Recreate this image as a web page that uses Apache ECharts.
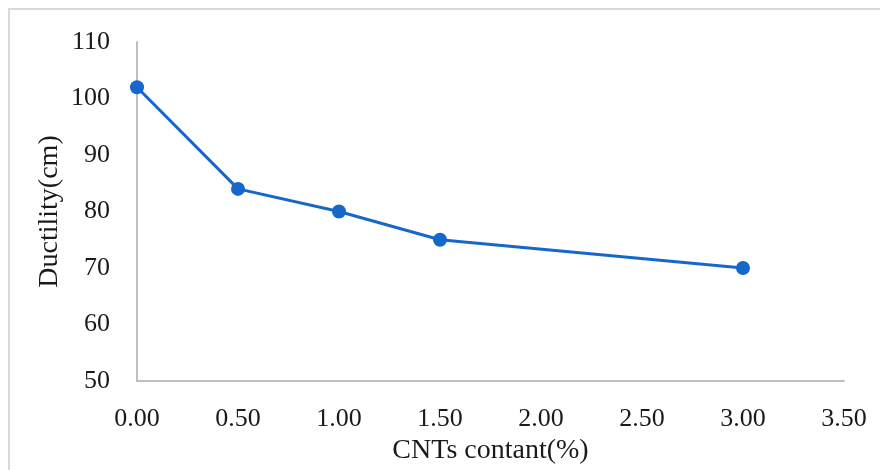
<!DOCTYPE html>
<html>
<head>
<meta charset="utf-8">
<script src="https://cdn.jsdelivr.net/npm/echarts@6/dist/echarts.min.js"></script>
<style>
html,body{margin:0;padding:0;background:#fff;}
#chart{width:880px;height:470px;}
</style>
</head>
<body>
<div id="chart"></div>
<script>
const cntContent = [0, 0.5, 1.0, 1.5, 3.0];
const ductility = [102, 84, 80, 75, 70];
const xAxisName = 'CNTs contant(%)';
const yAxisName = 'Ductility(cm)';

const chart = echarts.init(document.getElementById('chart'));
const font = 'Liberation Serif';
chart.setOption({
  animation: false,
  backgroundColor: '#fff',
  graphic: [{
    type: 'rect',
    shape: {x: 9, y: 9, width: 900, height: 500},
    style: {fill: 'none', stroke: '#d9d9d9', lineWidth: 2},
    silent: true
  }],
  grid: {left: 137, right: 36, top: 42, bottom: 88},
  xAxis: {
    type: 'value',
    min: 0, max: 3.5, interval: 0.5,
    name: xAxisName,
    nameLocation: 'middle',
    nameGap: 56,
    nameMoveOverlap: false,
    nameTextStyle: {fontFamily: font, fontSize: 28, color: '#1a1a1a'},
    axisLine: {show: true, lineStyle: {color: '#bfbfbf', width: 2}},
    axisTick: {show: false},
    splitLine: {show: false},
    axisLabel: {fontFamily: font, fontSize: 26, color: '#1a1a1a', margin: 25,
      formatter: v => v.toFixed(2)}
  },
  yAxis: {
    type: 'value',
    min: 50, max: 110, interval: 10,
    name: yAxisName,
    nameLocation: 'middle',
    nameGap: 73,
    nameMoveOverlap: false,
    nameTextStyle: {fontFamily: font, fontSize: 28, color: '#1a1a1a'},
    axisLine: {show: true, lineStyle: {color: '#bfbfbf', width: 2}},
    axisTick: {show: false},
    splitLine: {show: false},
    axisLabel: {fontFamily: font, fontSize: 26, color: '#1a1a1a', margin: 27}
  },
  series: [{
    type: 'line',
    data: cntContent.map((x, i) => [x, ductility[i]]),
    symbol: 'circle',
    symbolSize: 14,
    lineStyle: {color: '#1667CC', width: 3},
    itemStyle: {color: '#1667CC'}
  }]
});
</script>
</body>
</html>
